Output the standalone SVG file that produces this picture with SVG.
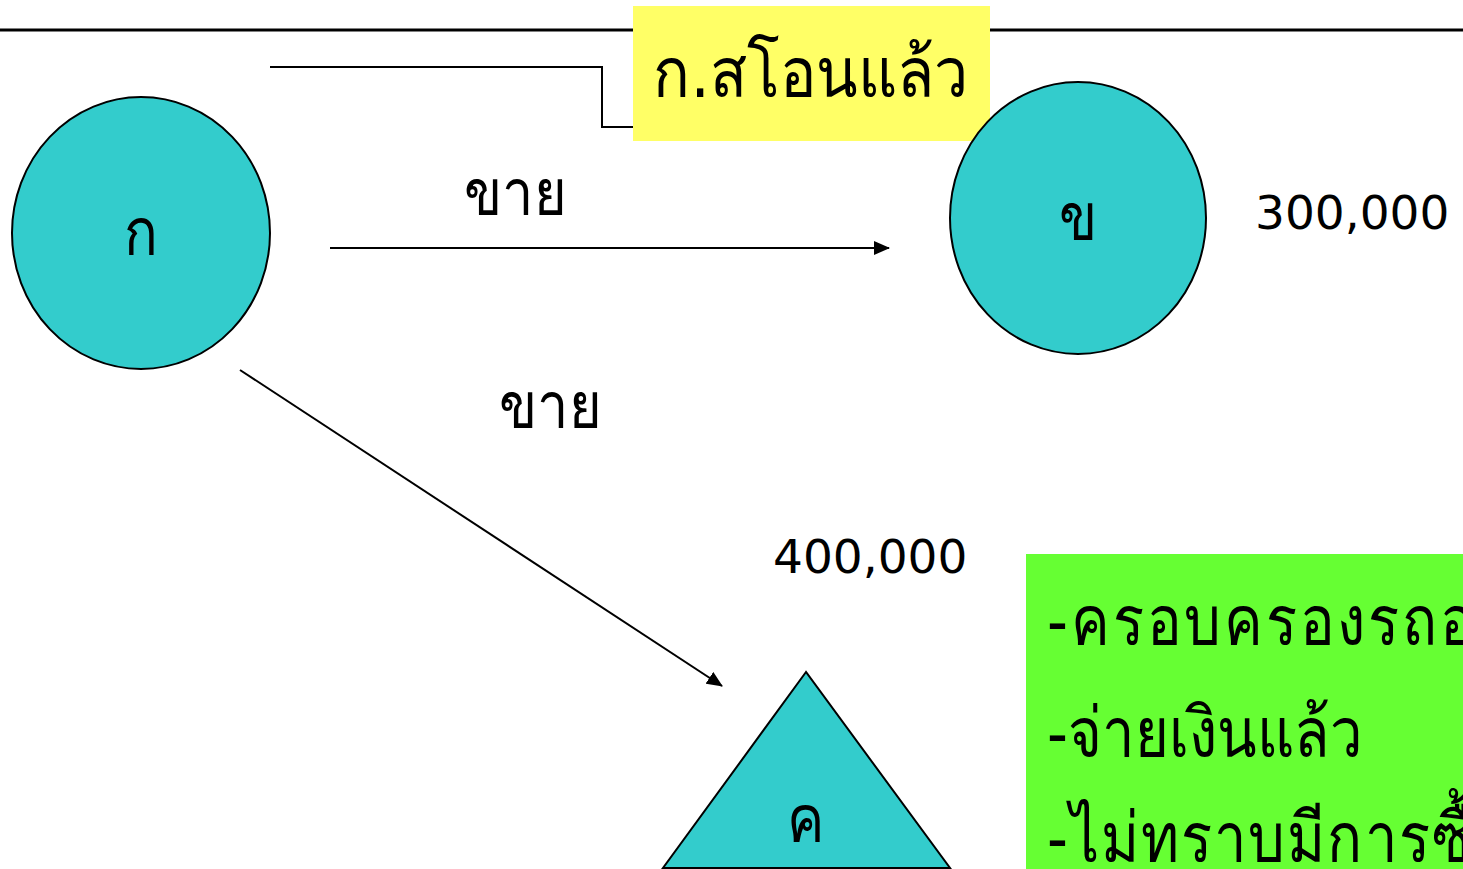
<svg xmlns="http://www.w3.org/2000/svg" width="1463" height="869" viewBox="0 0 1463 869">
<style>
.shape{fill:#33CCCC;stroke:#000;stroke-width:2}
.t{font-family:"DejaVu Sans","Noto Sans",sans-serif;fill:#000}
.line{stroke:#000;stroke-width:2;fill:none}
</style>
<defs>
<marker id="arr" markerWidth="16" markerHeight="14" refX="15" refY="7" orient="auto" markerUnits="userSpaceOnUse" viewBox="0 0 16 14">
<path d="M0,0 L16,7 L0,14 Z" fill="#000"/>
</marker>
</defs>
<rect width="1463" height="869" fill="#fff"/>
<line x1="0" y1="30" x2="1463" y2="30" stroke="#000" stroke-width="3"/>
<g id="connectors">
<polyline class="line" points="270,67 602,67 602,127 633,127"/>
<line class="line" x1="330" y1="248" x2="889" y2="248" marker-end="url(#arr)"/>
<line class="line" x1="240" y1="370" x2="722" y2="686" marker-end="url(#arr)"/>
</g>
<g id="node-note">
<rect x="633" y="6" width="357" height="135" fill="#FFFF66"/>
<text class="t" transform="translate(811,97) scale(1.05,1.2)" font-size="58" text-anchor="middle">ก.สโอนแล้ว</text>
</g>
<g id="node-a">
<ellipse class="shape" cx="141" cy="233" rx="129" ry="136"/>
<text class="t" transform="translate(141,255) scale(1,1.2)" font-size="56" text-anchor="middle">ก</text>
</g>
<g id="node-b">
<ellipse class="shape" cx="1078" cy="218" rx="128" ry="136"/>
<text class="t" transform="translate(1078,240) scale(1,1.2)" font-size="56" text-anchor="middle">ข</text>
</g>
<g id="node-c">
<polygon class="shape" points="806,672 663,868 950,868"/>
<text class="t" transform="translate(806,842) scale(1,1.2)" font-size="56" text-anchor="middle">ค</text>
</g>
<g id="labels">
<text class="t" transform="translate(515,215) scale(1,1.15)" font-size="56" text-anchor="middle">ขาย</text>
<text class="t" transform="translate(550,428) scale(1,1.15)" font-size="56" text-anchor="middle">ขาย</text>
<text class="t" x="1255" y="229" font-size="47">300,000</text>
<text class="t" x="773" y="573" font-size="47">400,000</text>
</g>
<g id="node-green">
<rect x="1026" y="554" width="437" height="315" fill="#66FF33"/>
<text class="t" transform="translate(1047,645) scale(1,1.2)" font-size="58" letter-spacing="3">-ครอบครองรถอ</text>
<text class="t" transform="translate(1047,757) scale(1,1.2)" font-size="58">-จ่ายเงินแล้ว</text>
<text class="t" transform="translate(1047,862) scale(1,1.2)" font-size="58" letter-spacing="2">-ไม่ทราบมีการซื้อ</text>
</g>
</svg>
